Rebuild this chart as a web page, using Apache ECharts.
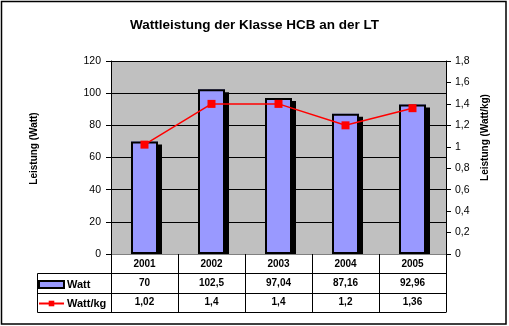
<!DOCTYPE html>
<html>
<head>
<meta charset="utf-8">
<script src="https://cdn.jsdelivr.net/npm/echarts@6/dist/echarts.min.js"></script>
<style>
  html, body { margin: 0; padding: 0; background: #fff; }
  #chart { width: 509px; height: 326px; }
</style>
</head>
<body>
<div id="chart"></div>
<script>
// Jahre und Messwerte
const years = ['2001', '2002', '2003', '2004', '2005'];
const watt = [70, 102.5, 97.04, 87.16, 92.96];
const wattPerKg = [1.02, 1.4, 1.4, 1.2, 1.36];

// Achsenteilung
const wattMax = 120, wattStep = 20;
const kgMax = 1.8, kgStep = 0.2;

const FONT = '"Liberation Sans", Arial, sans-serif';
const de = v => String(v).replace('.', ',');

const G = { left: 111, right: 63, top: 61, bottom: 72 };
const W = 509, H = 326;
const plotL = G.left, plotR = W - G.right, plotB = H - G.bottom;
const rowH = 19.3;

const chart = echarts.init(document.getElementById('chart'), null, { renderer: 'canvas' });

// Tabellenlinien unter der Kategorienachse und Rahmen
function tableLines() {
  const els = [];
  const colW = (plotR - plotL) / years.length;
  const y1 = plotB + rowH, y2 = plotB + 2 * rowH, y3 = plotB + 3 * rowH;
  const line = (x1, ya, x2, yb) => ({
    type: 'line', shape: { x1, y1: ya, x2, y2: yb },
    style: { stroke: '#000', lineWidth: 1 }, z: 60
  });
  // Schatten der Balken unterhalb der Achse abdecken
  els.push({
    type: 'rect', shape: { x: plotL, y: plotB + 0.5, width: plotR - plotL, height: 4 },
    style: { fill: '#fff' }, z: 50
  });
  for (let i = 0; i <= years.length; i++) {
    const x = Math.round(plotL + i * colW) + 0.5;
    els.push(line(x, plotB, x, Math.round(y3) + 0.5));
  }
  els.push(line(plotL, Math.round(y1) + 0.5, plotR, Math.round(y1) + 0.5));
  els.push(line(37.5, Math.round(y1) + 0.5, plotL, Math.round(y1) + 0.5));
  els.push(line(37.5, Math.round(y2) + 0.5, plotR, Math.round(y2) + 0.5));
  els.push(line(37.5, Math.round(y3) + 0.5, plotR, Math.round(y3) + 0.5));
  els.push(line(37.5, Math.round(y1) + 0.5, 37.5, Math.round(y3) + 0.5));
  els.push({
    type: 'rect', shape: { x: 1.5, y: 1.5, width: 504.5, height: 322.5 },
    style: { fill: 'none', stroke: '#000', lineWidth: 1.5 }, z: 60
  });
  return els;
}

const tableText = { color: '#000', fontFamily: FONT, fontSize: 10, fontWeight: 'bold' };

const rowAxis = (data, offset) => ({
  type: 'category', data, gridIndex: 0, position: 'bottom', offset,
  axisLine: { show: false }, axisTick: { show: false },
  axisLabel: Object.assign({ margin: 5 }, tableText)
});

const nameStyle = (shift) => ({
  fontFamily: FONT, fontSize: 10, fontWeight: 'bold', color: '#000',
  padding: [0, 0, 0, shift]
});

chart.setOption({
  animation: false,
  backgroundColor: '#fff',
  title: {
    text: 'Wattleistung der Klasse HCB an der LT',
    left: 'center', top: 13,
    textStyle: { fontFamily: FONT, fontSize: 13.5, fontWeight: 'bold', color: '#000' }
  },
  legend: {
    orient: 'vertical', left: 38, top: 279, itemGap: 8, padding: 0,
    itemWidth: 25, itemHeight: 7,
    textStyle: { fontFamily: FONT, fontSize: 11, fontWeight: 'bold', color: '#000', padding: [0, 0, 0, -2] },
    data: [
      { name: 'Watt', icon: 'rect',
        itemStyle: { color: '#9999ff', borderColor: '#000', borderWidth: 2, shadowColor: 'transparent' } },
      { name: 'Watt/kg' }
    ]
  },
  grid: {
    left: G.left, right: G.right, top: G.top, bottom: G.bottom,
    show: true, backgroundColor: '#c0c0c0', borderWidth: 0
  },
  xAxis: [
    {
      type: 'category', data: years,
      axisLine: { lineStyle: { color: '#000', width: 1 } },
      axisTick: { show: false },
      axisLabel: Object.assign({ margin: 5 }, tableText)
    },
    rowAxis(watt.map(de), rowH),
    rowAxis(wattPerKg.map(de), 2 * rowH)
  ],
  yAxis: [
    {
      type: 'value', min: 0, max: wattMax, interval: wattStep,
      name: 'Leistung (Watt)', nameLocation: 'middle', nameGap: 72, nameRotate: 90,
      nameTextStyle: nameStyle(18),
      axisLine: { show: true, lineStyle: { color: '#000', width: 1 } },
      axisTick: { show: true, length: 5, lineStyle: { color: '#000' } },
      axisLabel: { margin: 10, color: '#000', fontFamily: FONT, fontSize: 10.5 },
      splitLine: { show: true, lineStyle: { color: '#000', width: 1 } }
    },
    {
      type: 'value', min: 0, max: kgMax, interval: kgStep, position: 'right',
      name: 'Leistung (Watt/kg)', nameLocation: 'middle', nameGap: 33, nameRotate: 90,
      nameTextStyle: nameStyle(40),
      axisLine: { show: true, lineStyle: { color: '#000', width: 1 } },
      axisTick: { show: true, length: 5, lineStyle: { color: '#000' } },
      axisLabel: {
        margin: 9, color: '#000', fontFamily: FONT, fontSize: 10.5,
        formatter: v => de(+v.toFixed(1))
      },
      splitLine: { show: false }
    }
  ],
  series: [
    {
      name: 'Watt', type: 'bar', data: watt, barWidth: 27, barGap: '-100%',
      itemStyle: {
        color: '#9999ff',
        shadowColor: '#000', shadowOffsetX: 4, shadowOffsetY: 3, shadowBlur: 0
      }
    },
    {
      // schwarzer Balkenrahmen ohne Schatten
      name: 'Watt Rahmen', type: 'bar', data: watt, barWidth: 27, barGap: '-100%',
      itemStyle: { color: 'rgba(0,0,0,0)', borderColor: '#000', borderWidth: 2 },
      emphasis: { disabled: true }, tooltip: { show: false }
    },
    {
      name: 'Watt/kg', type: 'line', yAxisIndex: 1, data: wattPerKg,
      symbol: 'rect', symbolSize: 8, z: 5,
      lineStyle: { color: '#ff0000', width: 1.5 },
      itemStyle: { color: '#ff0000' }
    }
  ],
  graphic: tableLines()
});
</script>
</body>
</html>
